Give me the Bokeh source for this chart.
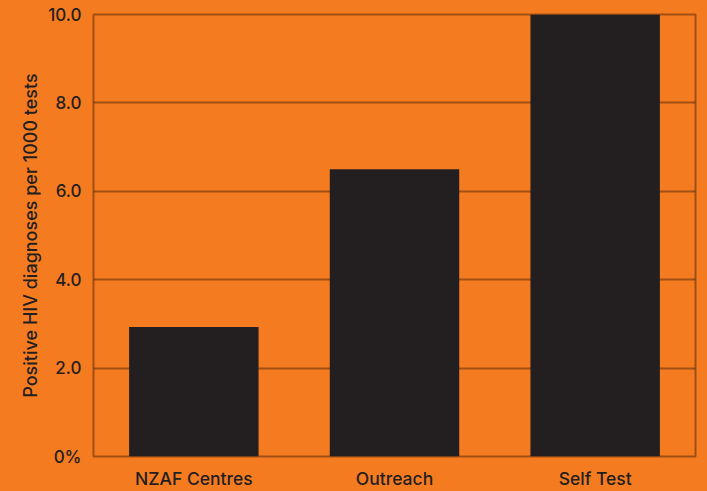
from bokeh.plotting import figure
from bokeh.models import ColumnDataSource, FixedTicker, Range1d
from bokeh.embed import file_html
from bokeh.resources import INLINE

categories = ["NZAF Centres", "Outreach", "Self Test"]
values = [2.93, 6.5, 10.0]
y_ticks = [0, 2, 4, 6, 8, 10]
y_tick_labels = ["0%", "2.0", "4.0", "6.0", "8.0", "10.0"]

ORANGE = "#F57B20"
DARK = "#231F20"
GRID = "#000000"
FONT = "'Inter Medium', 'Inter SemiBold', Inter"

src = ColumnDataSource(dict(cat=categories, val=values))

p = figure(x_range=categories, y_range=Range1d(0, 10), width=707, height=491,
           output_backend="svg", toolbar_location=None,
           min_border_left=93, min_border_right=12, min_border_top=14, min_border_bottom=33)
p.x_range.range_padding = 0

p.background_fill_color = ORANGE
p.border_fill_color = ORANGE
p.outline_line_color = GRID
p.outline_line_alpha = 0.35
p.outline_line_width = 2

p.vbar(x="cat", top="val", width=0.645, source=src, fill_color=DARK, line_color=None)

p.xgrid.grid_line_color = None
p.ygrid.grid_line_color = GRID
p.ygrid.grid_line_alpha = 0.35
p.ygrid.grid_line_width = 2
p.ygrid.level = "underlay"

p.yaxis.ticker = FixedTicker(ticks=y_ticks)
p.yaxis.major_label_overrides = {t: l for t, l in zip(y_ticks, y_tick_labels)}
for ax in (p.xaxis, p.yaxis):
    ax.axis_line_color = None
    ax.major_tick_line_color = None
    ax.minor_tick_line_color = None
    ax.major_tick_out = 0
    ax.major_tick_in = 0
    ax.minor_tick_out = 0
    ax.minor_tick_in = 0
    ax.major_label_text_font = FONT
    ax.major_label_text_color = DARK
    ax.major_label_text_font_style = "normal"

p.yaxis.major_label_text_font_size = "17px"
p.yaxis.major_label_standoff = 12
p.xaxis.major_label_text_font_size = "17.5px"
p.xaxis.major_label_standoff = 11

p.yaxis.axis_label = "Positive HIV diagnoses per 1000 tests"
p.yaxis.axis_label_text_font = FONT
p.yaxis.axis_label_text_font_size = "18px"
p.yaxis.axis_label_text_font_style = "normal"
p.yaxis.axis_label_text_color = DARK
p.yaxis.axis_label_standoff = 4

html = file_html(p, INLINE)
html = html.replace("<head>", "<head><style>html,body{margin:0;padding:0;overflow:hidden;background:%s;}</style>" % ORANGE, 1)
open("out.html", "w").write(html)
